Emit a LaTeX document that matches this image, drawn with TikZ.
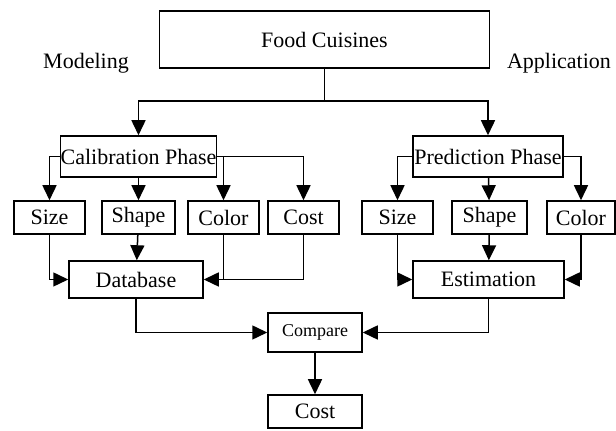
\documentclass[tikz,border=0pt]{standalone}
\usepackage{fontspec}
\setmainfont{Liberation Serif}
\usetikzlibrary{arrows.meta}

\begin{document}
\begin{tikzpicture}[x=0.5pt, y=-0.5pt,
        font=\fontsize{11}{13}\selectfont,
        box/.style={draw, line width=0.75pt, inner sep=0pt},
        arr/.style={-{Triangle[width=7pt,length=7.5pt]}},
        link/.style={line width=0.75pt}]
            \useasboundingbox (0,0) rectangle (616,431);

            \node[box, minimum width=165pt, minimum height=28.5pt] (food) at (324.5,39.5) {Food Cuisines};
            \node (model) at (86,63) {Modeling};
            \node (appl) at (559,63) {Application};

            \node[box, minimum width=77.5pt, minimum height=20.5pt] (calib) at (138.5,156.5) {Calibration Phase};
            \node[box, minimum width=75pt, minimum height=20.5pt] (pred) at (488,156.5) {Prediction Phase};

            \node[box, minimum width=35.5pt, minimum height=16.5pt] (size1) at (49.5,217.5) {Size};
            \node[box, minimum width=36.5pt, minimum height=16.5pt] (shape1) at (138.5,217.5) {Shape};
            \node[box, minimum width=35.5pt, minimum height=16.5pt] (color1) at (223.5,217.5) {Color};
            \node[box, minimum width=35.5pt, minimum height=16.5pt] (cost1) at (303.5,217.5) {Cost};
            \node[box, minimum width=35.5pt, minimum height=16.5pt] (size2) at (397.5,217.5) {Size};
            \node[box, minimum width=37.5pt, minimum height=16.5pt] (shape2) at (489.5,217.5) {Shape};
            \node[box, minimum width=34pt, minimum height=16.5pt] (color2) at (581,217.5) {Color};

            \node[box, minimum width=67pt, minimum height=18.5pt] (data) at (136,279.5) {Database};
            \node[box, minimum width=75.5pt, minimum height=18.5pt] (estim) at (488.5,279.5) {Estimation};

            \node[box, minimum width=47pt, minimum height=19.5pt, font=\fontsize{9}{11}\selectfont] (comp) at (315,332.5) {Compare};
            \node[box, minimum width=47pt, minimum height=16.5pt] (cost) at (315,411.5) {Cost};

            \coordinate (fork) at (324.5,101);
            \draw[link] (food) -- (fork);
            \draw[link, arr] (fork) -| (calib);
            \draw[link, arr] (fork) -| (pred);

            \draw[link, arr] (calib.west) -| (size1);
            \draw[link, arr] (calib) -- (shape1);
            \draw[link, arr] (calib.east) -| (color1);
            \draw[link, arr] (calib.east) -| (cost1);

            \draw[link, arr] (pred.west) -| (size2);
            \draw[link, arr] (pred) -- (shape2);
            \draw[link, arr] (pred.east) -| (color2);

            \draw[link, arr] (size1) |- (data);
            \draw[link, arr] (shape1) -- (data);
            \draw[link] (color1) -- (color1 |- data);
            \draw[link, arr] (cost1) |- (data);

            \draw[link, arr] (size2) |- (estim);
            \draw[link, arr] (shape2) -- (estim);
            \draw[link, arr] (color2) |- (estim);

            \draw[link, arr] (data) |- (comp);
            \draw[link, arr] (estim) |- (comp);
            \draw[link, arr] (comp) -- (cost);
        \end{tikzpicture}
\end{document}
